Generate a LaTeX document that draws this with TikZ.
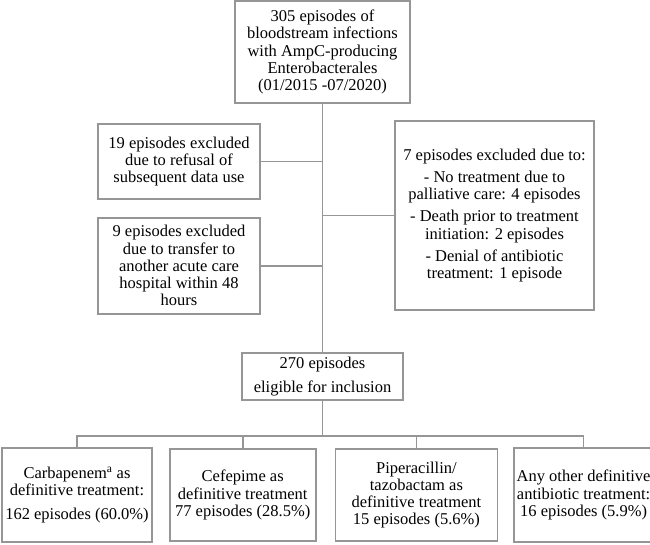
\documentclass[tikz,border=0pt]{standalone}
\usepackage{fontspec}
\setmainfont{Liberation Serif}
\usepackage{tikz}
\usetikzlibrary{positioning, calc}
\definecolor{linegray}{RGB}{150,150,150}

\begin{document}
\begin{tikzpicture}[x=1pt, y=1pt,
    box/.style={draw=linegray, line width=1.7pt, align=center, inner sep=0pt,
        font=\fontsize{16.5}{17.3}\selectfont},
    link/.style={draw=linegray, line width=1.7pt}]
        \useasboundingbox (0,0) rectangle (650,-544);
        \node [box, minimum width=175pt, minimum height=102pt] (S0) at (322.5,-52) {305 episodes of\\ bloodstream infections\\ with AmpC-producing\\ Enterobacterales\\ (01/2015 -07/2020)};
        \node [box, minimum width=162pt, minimum height=75pt] (E1) at (179,-161.5) {19 episodes excluded\\ due to refusal of\\ subsequent data use};
        \node [box, minimum width=162pt, minimum height=96pt, below=17pt of E1] (E2) {9 episodes excluded\\ due to transfer to\\ another acute care\\ hospital within 48\\ hours};
        \node [box, minimum width=199pt, minimum height=189pt] (E3) at (494.5,-215.5) {7 episodes excluded due to:\\[5pt] - No treatment due to\\ palliative care: 4 episodes\\[5pt] - Death prior to treatment\\ initiation: 2 episodes\\[5pt] - Denial of antibiotic\\ treatment: 1 episode};
        \node [box, minimum width=161pt, minimum height=47pt, below=248pt of S0] (I0) {270 episodes\\[6.5pt] eligible for inclusion};

        \node [box, minimum width=150pt, minimum height=94pt] (T1) at (77,-495) {Carbapenem\textsuperscript{a} as\\ definitive treatment:\\[7pt] 162 episodes (60.0\%)};
        \node [box, minimum width=146pt, minimum height=92pt, right=16pt of T1] (T2) {Cefepime as\\ definitive treatment\\ 77 episodes (28.5\%)};
        \node [box, minimum width=162pt, minimum height=92pt, right=18pt of T2] (T3) {Piperacillin/\\ tazobactam as\\ definitive treatment\\ 15 episodes (5.6\%)};
        \node [box, minimum width=139pt, minimum height=94pt, right=15pt of T3] (T4) {Any other definitive\\ antibiotic treatment:\\ 16 episodes (5.9\%)};

        \coordinate (B0) at (0,-436);
        \draw [link] (S0.south) -- (I0.north);
        \draw [link] (E1.east) -- (E1.east -| S0.south);
        \draw [link] (E2.east) -- (E2.east -| S0.south);
        \draw [link] (E3.west) -- (E3.west -| S0.south);
        \draw [link] (I0.south) -- (I0.south |- B0);
        \draw [link] (T1.north) -- (T1.north |- B0) -- (T4.north |- B0) -- (T4.north);
        \draw [link] (T2.north) -- (T2.north |- B0);
        \draw [link] (T3.north) -- (T3.north |- B0);
\end{tikzpicture}
\end{document}
